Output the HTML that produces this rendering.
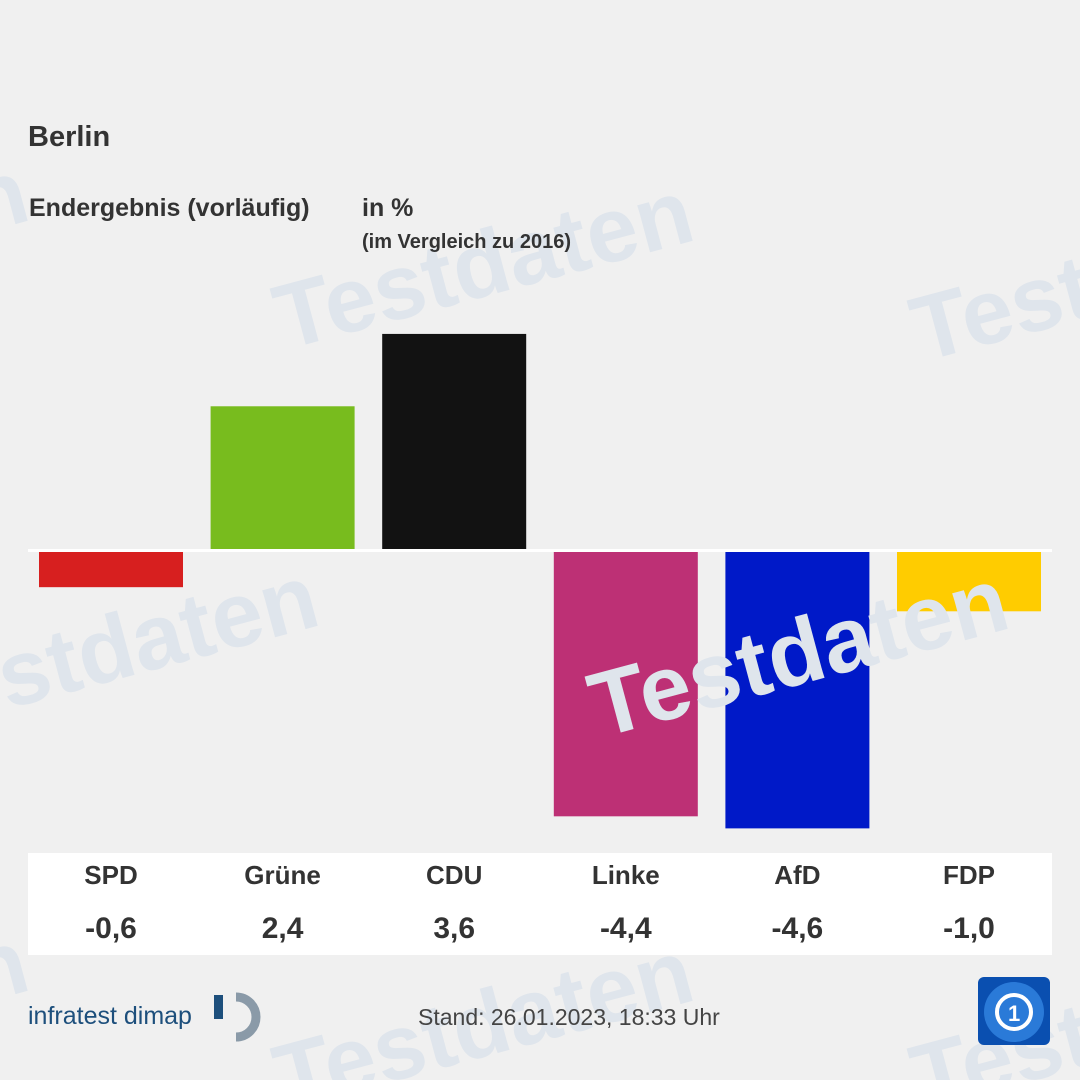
<!DOCTYPE html>
<html><head><meta charset="utf-8"><style>
body{margin:0;background:#f0f0f0;font-family:"Liberation Sans","DejaVu Sans",sans-serif;}
svg{display:block}
</style></head><body>
<svg id="chart" width="1080" height="1080" viewBox="0 0 1080 1080" xmlns="http://www.w3.org/2000/svg">
<rect width="1080" height="1080" fill="#f0f0f0"/>
<g id="wm-back" fill="#dfe5ec" font-weight="bold" font-size="92">
<text x="285" y="350" transform="rotate(-15 285 350)">Testdaten</text>
<text x="922" y="362" transform="rotate(-15 922 362)">Testdaten</text>
<text x="-90" y="735" transform="rotate(-15 -90 735)">Testdaten</text>
<text x="-380" y="330" transform="rotate(-15 -380 330)">Testdaten</text>
<text x="285" y="1110" transform="rotate(-15 285 1110)">Testdaten</text>
<text x="922" y="1110" transform="rotate(-15 922 1110)">Testdaten</text>
<text x="-380" y="1100" transform="rotate(-15 -380 1100)">Testdaten</text>
</g>
<text x="28" y="146" font-size="29" font-weight="bold" fill="#333">Berlin</text>
<text x="29" y="216" font-size="25" font-weight="bold" fill="#333">Endergebnis (vorläufig)</text>
<text x="362" y="216" font-size="25" font-weight="bold" fill="#333">in %</text>
<text x="362" y="248" font-size="20" font-weight="bold" fill="#333">(im Vergleich zu 2016)</text>
<g id="bars"></g>
<rect x="28" y="549" width="1024" height="3" fill="#fff"/>
<rect x="28" y="853" width="1024" height="102" fill="#fff"/>
<g id="labels"></g>
<text x="600" y="738" transform="rotate(-15 600 738)" font-size="92" font-weight="bold" fill="#dfe5ec">Testdaten</text>
<text x="28" y="1024" font-size="25" fill="#1d4f7c">infratest dimap</text>
<g>
<path d="M236 997 A20 20 0 1 1 236 1037" stroke="#8a9aa8" stroke-width="9" fill="none"/>
<rect x="214" y="995" width="9" height="24" fill="#1d4f7c"/>
</g>
<text x="418" y="1025" font-size="23" fill="#444">Stand: 26.01.2023, 18:33 Uhr</text>
<g>
<rect x="978" y="977" width="72" height="68" rx="6" fill="#0a4fb0"/>
<circle cx="1014" cy="1012" r="30" fill="#2a7ad8"/>
<circle cx="1014" cy="1012" r="17" fill="none" stroke="#fff" stroke-width="4"/>
<text x="1008" y="1021" font-size="22" font-weight="bold" fill="#fff">1</text>
</g>
</svg>
<script>
const categories=["SPD","Grüne","CDU","Linke","AfD","FDP"];
const values=[-0.6,2.4,3.6,-4.4,-4.6,-1.0];
const valueLabels=["-0,6","2,4","3,6","-4,4","-4,6","-1,0"];
const colors=["#d71f1f","#78bc1e","#121212","#bd3075","#0019c8","#ffcc00"];
const NS="http://www.w3.org/2000/svg";
const y0=551, pxPerUnit=60.3;
function yScale(v){return y0-v*pxPerUnit;}
function xScale(i){return 39+i*171.6;}
const bw=144;
const bars=document.getElementById('bars'), labels=document.getElementById('labels');
values.forEach((v,i)=>{
 const r=document.createElementNS(NS,'rect');
 const y=Math.min(yScale(v),y0), h=Math.abs(yScale(v)-y0);
 r.setAttribute('x',xScale(i));r.setAttribute('y',y);r.setAttribute('width',bw);r.setAttribute('height',h);r.setAttribute('fill',colors[i]);
 
 
 bars.appendChild(r);
 const t=document.createElementNS(NS,'text');
 t.setAttribute('x',xScale(i)+bw/2);t.setAttribute('y',884);t.setAttribute('text-anchor','middle');t.setAttribute('font-size','26');t.setAttribute('font-weight','bold');t.setAttribute('fill','#333');
 t.textContent=categories[i];
 
 
 labels.appendChild(t);
 const n=document.createElementNS(NS,'text');
 n.setAttribute('x',xScale(i)+bw/2);n.setAttribute('y',938);n.setAttribute('text-anchor','middle');n.setAttribute('font-size','30');n.setAttribute('font-weight','bold');n.setAttribute('fill','#333');
 n.textContent=valueLabels[i];
 
 
 labels.appendChild(n);
});
</script>
</body></html>
